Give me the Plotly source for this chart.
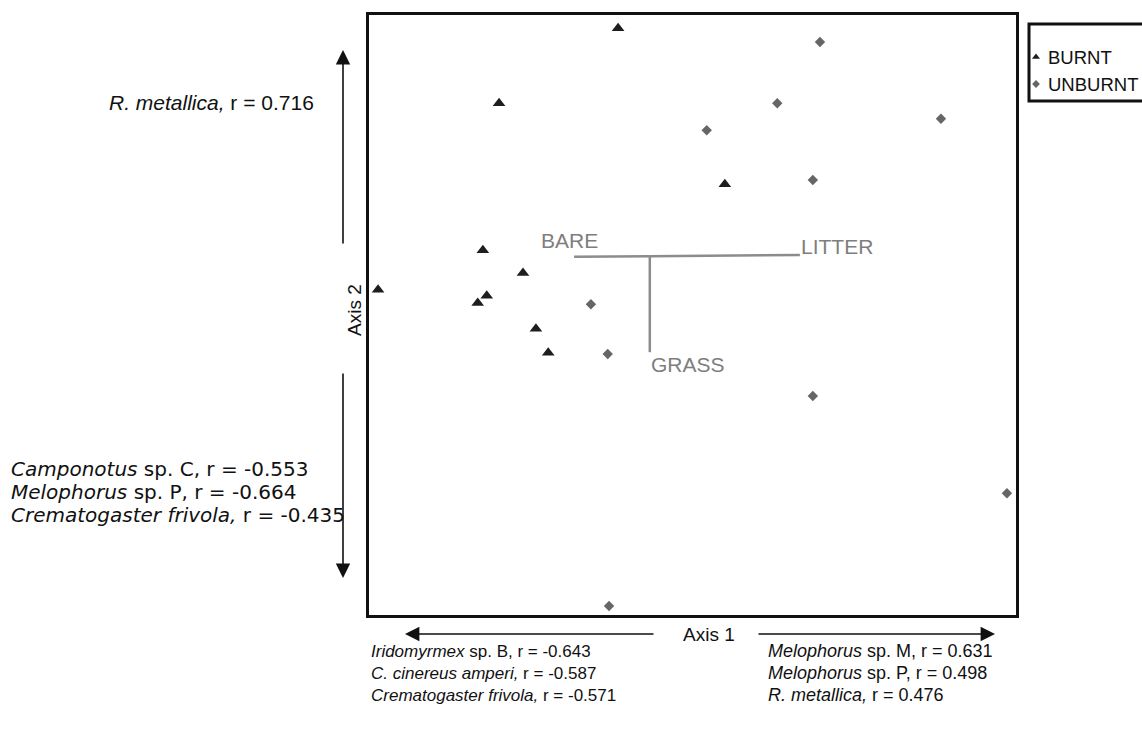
import plotly.graph_objects as go

W, H = 1142, 744

# ---- data (ordination scores, arbitrary 0-100 units) ----
burnt_x = [38.5, 20.1, 55.0, 17.6, 23.8, 1.4, 18.2, 16.8, 25.8, 27.7]
burnt_y = [97.8, 85.3, 71.8, 60.8, 57.0, 54.2, 53.2, 52.0, 47.7, 43.7]
unburnt_x = [69.7, 63.1, 52.2, 88.4, 68.6, 34.3, 36.9, 68.6, 98.6, 37.1]
unburnt_y = [95.5, 85.3, 80.8, 82.7, 72.5, 51.8, 43.5, 36.5, 20.3, 1.5]

vector_names = ["BARE", "LITTER", "GRASS"]
vector_origin = (43.4, 59.8)
vector_x = [31.7, 66.6, 43.4]
vector_y = [59.7, 60.0, 43.8]

legend_names = ["BURNT", "UNBURNT"]

axis2_pos_label = ["<i>R. metallica,</i> r = 0.716"]
axis2_neg_labels = ["<i>Camponotus</i> sp. C, r = -0.553",
                    "<i>Melophorus</i> sp. P, r = -0.664",
                    "<i>Crematogaster frivola,</i> r = -0.435"]
axis1_neg_labels = ["<i>Iridomyrmex</i> sp. B, r = -0.643",
                    "<i>C. cinereus amperi,</i> r = -0.587",
                    "<i>Crematogaster frivola,</i> r = -0.571"]
axis1_pos_labels = ["<i>Melophorus</i> sp. M, r = 0.631",
                    "<i>Melophorus</i> sp. P, r = 0.498",
                    "<i>R. metallica,</i> r = 0.476"]

# ---- layout helpers (pixel -> paper) ----
def px(x):
    return x / W

def py(y):
    return 1 - y / H

PL, PR, PT, PB = 369, 1016, 15, 615
FONT = "Liberation Sans, Arial, sans-serif"
WIDE = "DejaVu Sans, Liberation Sans, sans-serif"
TRI_COLOR = "#1e1e1e"
DIA_COLOR = "#666666"
VEC_COLOR = "#8c8c8c"
TXT = "#111111"

fig = go.Figure()

fig.add_trace(go.Scatter(x=burnt_x, y=burnt_y, mode="markers", name=legend_names[0],
                         marker=dict(symbol="triangle-up", size=11, color=TRI_COLOR),
                         showlegend=False))
fig.add_trace(go.Scatter(x=unburnt_x, y=unburnt_y, mode="markers", name=legend_names[1],
                         marker=dict(symbol="diamond", size=8, color=DIA_COLOR),
                         showlegend=False))

# environmental vectors
for nm, vx, vy in zip(vector_names, vector_x, vector_y):
    fig.add_trace(go.Scatter(x=[vector_origin[0], vx], y=[vector_origin[1], vy], mode="lines",
                             line=dict(color=VEC_COLOR, width=2.5), showlegend=False,
                             hoverinfo="skip"))

vec_pos = {"BARE": dict(xanchor="center", xshift=-5, yshift=16),
           "LITTER": dict(xanchor="left", xshift=-1, yshift=9),
           "GRASS": dict(xanchor="left", xshift=-1, yshift=-12)}
for nm, vx, vy in zip(vector_names, vector_x, vector_y):
    fig.add_annotation(x=vx, y=vy, xref="x", yref="y", text=nm, showarrow=False,
                       yanchor="middle", **vec_pos[nm],
                       font=dict(family=FONT, size=21, color="#7e7e7e"))

# legend drawn in its own small axes
fig.add_trace(go.Scatter(x=[7], y=[57], xaxis="x2", yaxis="y2", mode="markers",
                         marker=dict(symbol="triangle-up", size=7, color=TRI_COLOR),
                         showlegend=False, hoverinfo="skip"))
fig.add_trace(go.Scatter(x=[7], y=[84], xaxis="x2", yaxis="y2", mode="markers",
                         marker=dict(symbol="diamond", size=6, color=DIA_COLOR),
                         showlegend=False, hoverinfo="skip"))
for nm, yy in zip(legend_names, [57, 84]):
    fig.add_annotation(x=px(1046), y=py(yy), xref="paper", yref="paper", text=nm,
                       showarrow=False, xanchor="left", yanchor="middle",
                       font=dict(family=FONT, size=18.5, color=TXT))
fig.add_shape(type="rect", xref="paper", yref="paper", x0=px(1029), x1=px(1150),
              y0=py(24), y1=py(101), line=dict(color=TXT, width=3))

# axis arrows
arrow = dict(showarrow=True, arrowhead=2, arrowsize=1.8, arrowwidth=1.6, arrowcolor=TXT,
             xref="paper", yref="paper", text="", axref="pixel", ayref="pixel")
fig.add_annotation(x=px(343), y=py(50), ax=0, ay=195, **arrow)
fig.add_annotation(x=px(343), y=py(578), ax=0, ay=-206, **arrow)
fig.add_annotation(x=px(405), y=py(634), ax=250, ay=0, **arrow)
fig.add_annotation(x=px(995), y=py(634), ax=-238, ay=0, **arrow)

fig.add_annotation(x=px(709), y=py(634), xref="paper", yref="paper", text="Axis 1",
                   showarrow=False, xanchor="center", yanchor="middle",
                   font=dict(family=FONT, size=19, color=TXT))
fig.add_annotation(x=px(354), y=py(310), xref="paper", yref="paper", text="Axis 2",
                   showarrow=False, textangle=-90, xanchor="center", yanchor="middle",
                   font=dict(family=FONT, size=19, color=TXT))

# correlation labels
fig.add_annotation(x=px(316), y=py(103), xref="paper", yref="paper", text=axis2_pos_label[0],
                   showarrow=False, xanchor="right", yanchor="middle",
                   font=dict(family=FONT, size=21, color=TXT))
for i, t in enumerate(axis2_neg_labels):
    fig.add_annotation(x=px(9), y=py(468 + 23 * i), xref="paper", yref="paper", text=t,
                       showarrow=False, xanchor="left", yanchor="middle", height=23,
                       font=dict(family=WIDE, size=20, color=TXT))
for i, t in enumerate(axis1_neg_labels):
    fig.add_annotation(x=px(369), y=py(651 + 22 * i), xref="paper", yref="paper", text=t,
                       showarrow=False, xanchor="left", yanchor="middle", height=22,
                       font=dict(family=FONT, size=17, color=TXT))
for i, t in enumerate(axis1_pos_labels):
    fig.add_annotation(x=px(766), y=py(651 + 22 * i), xref="paper", yref="paper", text=t,
                       showarrow=False, xanchor="left", yanchor="middle", height=22,
                       font=dict(family=FONT, size=18, color=TXT))

fig.update_layout(
    width=W, height=H,
    margin=dict(l=0, r=0, t=0, b=0),
    paper_bgcolor="white", plot_bgcolor="white",
    showlegend=False,
    xaxis=dict(domain=[px(PL), px(PR)], range=[0, 100], showgrid=False, zeroline=False,
               showticklabels=False, ticks="", showline=True, mirror=True,
               linecolor=TXT, linewidth=2.5),
    yaxis=dict(domain=[py(PB), py(PT)], range=[0, 100], showgrid=False, zeroline=False,
               showticklabels=False, ticks="", showline=True, mirror=True,
               linecolor=TXT, linewidth=2.5),
    xaxis2=dict(domain=[px(1029), 1.0], range=[0, W - 1029], visible=False, anchor="y2"),
    yaxis2=dict(domain=[py(101), py(24)], range=[101, 24], visible=False, anchor="x2"),
)

fig.write_html("out.html")
